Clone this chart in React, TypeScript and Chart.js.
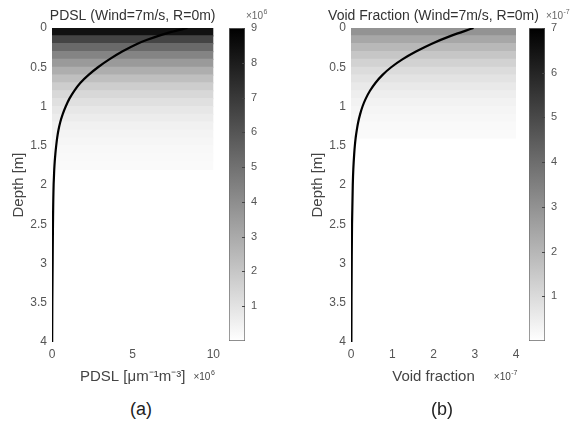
import React, { useEffect, useRef } from 'react';
import { Chart, registerables } from 'chart.js';

Chart.register(...registerables);
Chart.defaults.font.family = '"Liberation Sans", Arial, Helvetica, sans-serif';

// ---------- data: panel (a) PDSL ----------
const depthA = [0, 0.05, 0.1, 0.15, 0.2, 0.3, 0.4, 0.5, 0.6, 0.7, 0.8, 0.9, 1.0, 1.1, 1.2, 1.3, 1.4, 1.5, 1.6, 1.7, 1.8, 1.9, 2.0, 2.5, 3.0, 3.5, 4.0];
const pdslVals = [8.4, 7.4, 6.6, 5.9, 5.3, 4.35, 3.55, 2.85, 2.25, 1.75, 1.38, 1.08, 0.85, 0.66, 0.51, 0.4, 0.32, 0.26, 0.21, 0.17, 0.14, 0.12, 0.1, 0.06, 0.04, 0.02, 0.01];
const bandTopA = [0, 0.1, 0.2, 0.3, 0.4, 0.5, 0.6, 0.7, 0.8, 0.9, 1.0, 1.1, 1.2, 1.3, 1.4, 1.5, 1.6, 1.7];
const bandValA = [8.4, 6.6, 5.3, 4.35, 3.55, 2.85, 2.25, 1.75, 1.38, 1.08, 0.85, 0.66, 0.51, 0.4, 0.32, 0.26, 0.21, 0.17];
const xTicksA = [0, 5, 10];
const cbTicksA = [1, 2, 3, 4, 5, 6, 7, 8, 9];

// ---------- data: panel (b) Void fraction ----------
const depthB = [0, 0.1, 0.2, 0.3, 0.4, 0.5, 0.6, 0.7, 0.8, 0.9, 1.0, 1.1, 1.2, 1.3, 1.4, 1.5, 1.6, 1.8, 2.0, 2.5, 3.0, 3.5, 4.0];
const voidVals = [2.97, 2.42, 1.96, 1.575, 1.245, 0.974, 0.759, 0.591, 0.46, 0.358, 0.279, 0.22, 0.174, 0.14, 0.113, 0.093, 0.078, 0.056, 0.043, 0.025, 0.017, 0.012, 0.009];
const bandTopB = [0, 0.1, 0.2, 0.3, 0.4, 0.5, 0.6, 0.7, 0.8, 0.9, 1.0, 1.1, 1.2, 1.3];
const bandValB = [2.97, 2.42, 1.96, 1.575, 1.245, 0.974, 0.759, 0.591, 0.46, 0.358, 0.279, 0.22, 0.174, 0.14];
const xTicksB = [0, 1, 2, 3, 4];
const cbTicksB = [1, 2, 3, 4, 5, 6, 7];

const depthTicks = [0, 0.5, 1, 1.5, 2, 2.5, 3, 3.5, 4];

const FONT = '"Liberation Sans", Arial, Helvetica, sans-serif';

function gray(v: number, max: number) {
  const g = Math.round(255 * (1 - Math.min(v / max, 1)));
  return `rgb(${g},${g},${g})`;
}

function drawExp(ctx: CanvasRenderingContext2D, sup: string, x: number, y: number, align: 'left' | 'right', color: string) {
  ctx.save();
  ctx.fillStyle = color;
  ctx.textBaseline = 'alphabetic';
  ctx.textAlign = 'left';
  const base = '\u00d710';
  ctx.font = `10px ${FONT}`;
  const wb = ctx.measureText(base).width;
  ctx.font = `7px ${FONT}`;
  const ws = ctx.measureText(sup).width;
  const x0 = align === 'left' ? x : x - wb - ws;
  ctx.font = `10px ${FONT}`;
  ctx.fillText(base, x0, y);
  ctx.font = `7px ${FONT}`;
  ctx.fillText(sup, x0 + wb + 0.5, y - 5);
  ctx.restore();
}

type PanelCfg = {
  left: number;
  width: number;
  plotLeft: number; // in canvas coords
  plotRight: number;
  yTitlePad: number;
  title: string;
  xLabel: string;
  xMax: number;
  xTicks: number[];
  xExp: string;
  depth: number[];
  vals: number[];
  bandTop: number[];
  bandVal: number[];
  cbMax: number;
  cbTicks: number[];
  cbLeft: number;
  cbExp: string;
  tag: string;
  tagX: number;
};

const panels: PanelCfg[] = [
  {
    left: 0, width: 225, plotLeft: 52, plotRight: 214, yTitlePad: 10,
    title: 'PDSL (Wind=7m/s, R=0m)', xLabel: 'PDSL [\u03bcm\u207b\u00b9m\u207b\u00b3]',
    xMax: 10, xTicks: xTicksA, xExp: '6', depth: depthA, vals: pdslVals,
    bandTop: bandTopA, bandVal: bandValA, cbMax: 9, cbTicks: cbTicksA, cbLeft: 200, cbExp: '6',
    tag: '(a)', tagX: 141,
  },
  {
    left: 290, width: 296, plotLeft: 61, plotRight: 226, yTitlePad: 19,
    title: 'Void Fraction (Wind=7m/s, R=0m)', xLabel: 'Void fraction',
    xMax: 4, xTicks: xTicksB, xExp: '-7', depth: depthB, vals: voidVals,
    bandTop: bandTopB, bandVal: bandValB, cbMax: 7, cbTicks: cbTicksB, cbLeft: 500, cbExp: '-7',
    tag: '(b)', tagX: 442,
  },
];

const H = 392;
const TOP = 28;
const BOTTOM = 342;
const CB_BOTTOM = 341;
const CB_W = 86;

function Panel({ cfg }: { cfg: PanelCfg }) {
  const mainRef = useRef<HTMLCanvasElement>(null);
  const cbRef = useRef<HTMLCanvasElement>(null);

  useEffect(() => {
    const textPlugin = {
      id: 'panelText',
      afterDraw(chart: any) {
        const { ctx, chartArea } = chart;
        ctx.save();
        ctx.font = `14px ${FONT}`;
        ctx.fillStyle = '#333';
        ctx.textAlign = 'center';
        ctx.textBaseline = 'middle';
        ctx.fillText(cfg.title, (chartArea.left + chartArea.right) / 2, 16);
        ctx.restore();
        drawExp(ctx, cfg.xExp, chartArea.right + 1, 380, 'right', '#444');
      },
    };

    const main = new Chart(mainRef.current!, {
      type: 'bar',
      data: {
        datasets: [
          {
            type: 'line',
            data: cfg.depth.map((d, i) => ({ x: cfg.vals[i], y: d })),
            borderColor: '#000',
            borderWidth: 2.2,
            pointRadius: 0,
            fill: false,
            cubicInterpolationMode: 'monotone',
            order: 0,
          } as any,
          {
            type: 'bar',
            data: cfg.bandTop.map((d) => ({ y: d + 0.05, x: [0, cfg.xMax] })),
            backgroundColor: cfg.bandVal.map((v) => gray(v, cfg.cbMax)),
            borderWidth: 0,
            barPercentage: 1,
            categoryPercentage: 1,
            inflateAmount: 0.6,
            order: 1,
          } as any,
        ],
      },
      options: {
        indexAxis: 'y',
        animation: false,
        responsive: false,
        maintainAspectRatio: false,
        layout: { padding: { left: 0, top: TOP, right: cfg.width - cfg.plotRight, bottom: 0 } },
        plugins: {
          legend: { display: false },
          tooltip: { enabled: false },
          title: { display: false },
        },
        scales: {
          x: {
            type: 'linear',
            position: 'bottom',
            min: 0,
            max: cfg.xMax,
            grid: { display: false, drawTicks: false },
            border: { display: false },
            afterBuildTicks: (s: any) => { s.ticks = cfg.xTicks.map((v) => ({ value: v })); },
            ticks: { font: { size: 12 }, color: '#555', padding: 5, maxRotation: 0, callback: (v: any) => String(v) },
            title: { display: true, text: cfg.xLabel, font: { size: 15 }, color: '#444', padding: { top: 6, bottom: 6 } },
            afterFit: (s: any) => { s.height = H - BOTTOM; },
          },
          y: {
            type: 'linear',
            reverse: true,
            min: 0,
            max: 4,
            offset: false,
            grid: { display: false, drawTicks: false },
            border: { display: false },
            afterBuildTicks: (s: any) => { s.ticks = depthTicks.map((v) => ({ value: v })); },
            ticks: { font: { size: 12 }, color: '#555', padding: 5, callback: (v: any) => String(v) },
            title: { display: true, text: 'Depth [m]', font: { size: 15 }, color: '#444', padding: { top: cfg.yTitlePad, bottom: 0 } },
            afterFit: (s: any) => { s.width = cfg.plotLeft; },
          },
        },
      } as any,
      plugins: [textPlugin],
    });

    const cbPlugin = {
      id: 'cbText',
      afterDraw(chart: any) {
        const { ctx, chartArea, scales } = chart;
        const ys = scales.y;
        ctx.save();
        ctx.strokeStyle = '#444';
        ctx.lineWidth = 1;
        cfg.cbTicks.forEach((t) => {
          const py = Math.round(ys.getPixelForValue(t)) + 0.5;
          ctx.beginPath();
          ctx.moveTo(chartArea.right - 3, py);
          ctx.lineTo(chartArea.right, py);
          ctx.stroke();
        });
        ctx.restore();
        drawExp(ctx, cfg.cbExp, chartArea.right + 1, 19, 'left', '#666');
      },
    };

    const cbPadLeft = 29;
    const cbWidth = 16;
    const cb = new Chart(cbRef.current!, {
      type: 'bar',
      data: {
        labels: [''],
        datasets: [
          {
            data: [[0, cfg.cbMax]],
            backgroundColor: (c: any) => {
              const ca = c.chart.chartArea;
              if (!ca) return '#888';
              const g = c.chart.ctx.createLinearGradient(0, ca.bottom, 0, ca.top);
              g.addColorStop(0, '#ffffff');
              g.addColorStop(1, '#000000');
              return g;
            },
            borderColor: '#6a6a6a',
            borderWidth: 1,
            borderSkipped: false,
            barPercentage: 1,
            categoryPercentage: 1,
          } as any,
        ],
      },
      options: {
        animation: false,
        responsive: false,
        maintainAspectRatio: false,
        layout: { padding: { left: cbPadLeft, top: TOP, right: 0, bottom: H - CB_BOTTOM } },
        plugins: { legend: { display: false }, tooltip: { enabled: false } },
        scales: {
          x: { display: false },
          y: {
            position: 'right',
            min: 0,
            max: cfg.cbMax,
            grid: { display: false, drawTicks: false },
            border: { display: false },
            afterBuildTicks: (s: any) => { s.ticks = cfg.cbTicks.map((v) => ({ value: v })); },
            ticks: { font: { size: 11 }, color: '#555', padding: 6, callback: (v: any) => String(v) },
            afterFit: (s: any) => { s.width = CB_W - cbPadLeft - cbWidth; },
          },
        },
      } as any,
      plugins: [cbPlugin],
    });

    return () => {
      main.destroy();
      cb.destroy();
    };
  }, [cfg]);

  return (
    <>
      <canvas
        ref={mainRef}
        width={cfg.width}
        height={H}
        style={{ position: 'absolute', left: cfg.left, top: 0, width: cfg.width, height: H }}
      />
      <canvas
        ref={cbRef}
        width={CB_W}
        height={H}
        style={{ position: 'absolute', left: cfg.cbLeft, top: 0, width: CB_W, height: H }}
      />
      <div
        style={{
          position: 'absolute',
          left: cfg.tagX - 40,
          top: 397,
          width: 80,
          height: 24,
          lineHeight: '24px',
          textAlign: 'center',
          fontFamily: FONT,
          fontSize: 18,
          color: '#222',
        }}
      >
        {cfg.tag}
      </div>
    </>
  );
}

export default function App() {
  return (
    <div style={{ position: 'absolute', left: 0, top: 0, width: 586, height: 427, background: '#fff', overflow: 'hidden' }}>
      {panels.map((p) => (
        <Panel key={p.tag} cfg={p} />
      ))}
    </div>
  );
}
